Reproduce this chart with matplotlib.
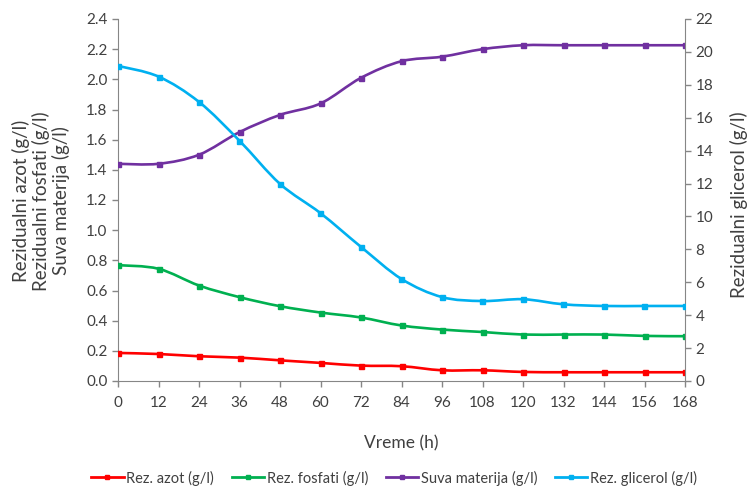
import matplotlib
matplotlib.use("Agg")
import matplotlib.pyplot as plt
from matplotlib.path import Path
from matplotlib.patches import PathPatch
from matplotlib.lines import Line2D
from matplotlib.ticker import FormatStrFormatter, MultipleLocator

plt.rcParams['font.family'] = ['Lato', 'DejaVu Sans']

hours = [0, 12, 24, 36, 48, 60, 72, 84, 96, 108, 120, 132, 144, 156, 168]
azot = [0.186, 0.179, 0.164, 0.155, 0.137, 0.120, 0.102, 0.098, 0.071, 0.071, 0.060, 0.058, 0.058, 0.058, 0.058]
fosfati = [0.768, 0.744, 0.633, 0.556, 0.496, 0.454, 0.421, 0.368, 0.341, 0.325, 0.308, 0.308, 0.308, 0.299, 0.297]
suva = [1.44, 1.44, 1.50, 1.65, 1.764, 1.84, 2.01, 2.12, 2.15, 2.20, 2.226, 2.226, 2.226, 2.226, 2.226]
glicerol = [19.15, 18.5, 16.96, 14.6, 11.98, 10.2, 8.15, 6.2, 5.1, 4.86, 4.97, 4.66, 4.56, 4.56, 4.56]

labels = ['Rez. azot (g/l)', 'Rez. fosfati (g/l)', 'Suva materija (g/l)', 'Rez. glicerol (g/l)']
colors = ['#FF0000', '#00B050', '#7030A0', '#00B0F0']
txt = '#404040'


def smooth_path(x, y):
    n = len(x)
    verts = [(x[0], y[0])]
    codes = [Path.MOVETO]
    for i in range(n - 1):
        x0, y0 = (x[i - 1], y[i - 1]) if i > 0 else (x[i], y[i])
        x1, y1 = x[i], y[i]
        x2, y2 = x[i + 1], y[i + 1]
        x3, y3 = (x[i + 2], y[i + 2]) if i + 2 < n else (x2, y2)
        c1 = (x1 + (x2 - x0) / 6.0, y1 + (y2 - y0) / 6.0)
        c2 = (x2 - (x3 - x1) / 6.0, y2 - (y3 - y1) / 6.0)
        verts += [c1, c2, (x2, y2)]
        codes += [Path.CURVE4] * 3
    return Path(verts, codes)


fig = plt.figure(figsize=(7.48, 4.88), dpi=100)
ax = fig.add_axes([118 / 748, 1 - 381 / 488, (685 - 118) / 748, (381 - 19) / 488])
ax2 = ax.twinx()


def draw(a, y, c):
    a.add_patch(PathPatch(smooth_path(hours, y), facecolor='none', edgecolor=c, lw=1.9,
                          transform=a.transData, zorder=3))
    a.plot(hours, y, linestyle='none', marker='s', ms=3.6, color=c, zorder=4)


draw(ax, azot, colors[0])
draw(ax, fosfati, colors[1])
draw(ax, suva, colors[2])
draw(ax2, glicerol, colors[3])

ax.set_xlim(0, 168)
ax.set_ylim(0, 2.4)
ax2.set_ylim(0, 22)
ax.set_xticks(hours)
ax.yaxis.set_major_locator(MultipleLocator(0.2))
ax.yaxis.set_major_formatter(FormatStrFormatter('%.1f'))
ax2.yaxis.set_major_locator(MultipleLocator(2))

for a in (ax, ax2):
    for s in a.spines.values():
        s.set_color('#868686')
    a.spines['top'].set_visible(False)
    a.tick_params(colors='#868686', labelcolor=txt, labelsize=11, length=4, width=1)
ax.tick_params(axis='x', pad=7)
ax.spines['right'].set_visible(False)
ax2.spines['left'].set_visible(False)
ax2.spines['bottom'].set_visible(False)

ax.set_xlabel('Vreme (h)', fontsize=12.5, color=txt, labelpad=18)
fig.text(41 / 748, 1 - 201 / 488,
         'Rezidualni azot (g/l)\nRezidualni fosfati (g/l)\nSuva materija (g/l)',
         rotation=90, fontsize=13.5, color=txt, ha='center', va='center',
         multialignment='center', linespacing=1.15)
fig.text(739 / 748, 1 - 205 / 488, 'Rezidualni glicerol (g/l)', rotation=90,
         fontsize=13.5, color=txt, ha='center', va='center')

handles = [Line2D([], [], color=c, lw=2.0, marker='s', ms=3) for c in colors]
fig.legend(handles, labels, loc='center', bbox_to_anchor=(394 / 748, 1 - 478 / 488), ncol=4,
           frameon=False, fontsize=10.5, handlelength=2.2, columnspacing=1.2, handletextpad=0.2,
           labelcolor=txt)

fig.savefig('out.png', dpi=100)
